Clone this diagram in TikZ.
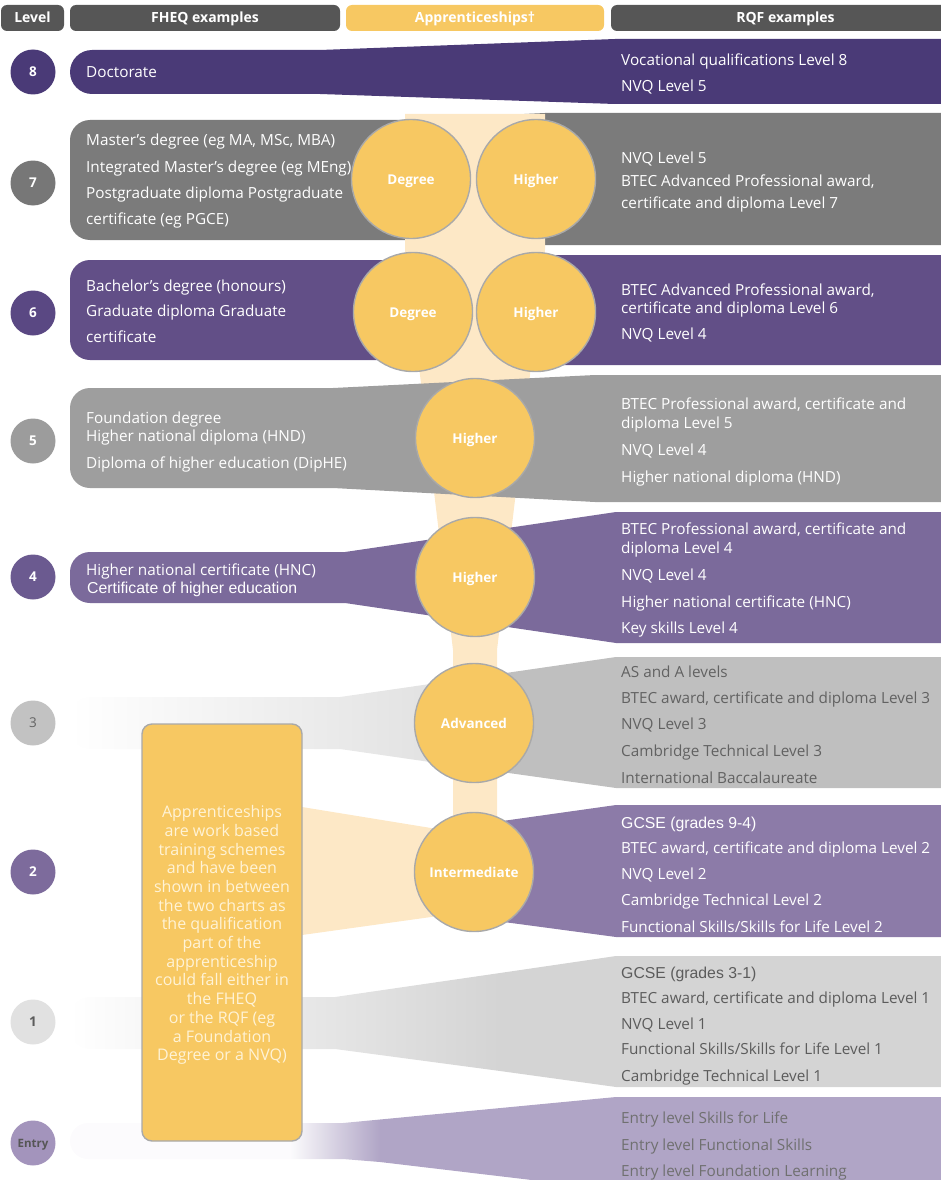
\documentclass[tikz,border=0pt]{standalone}
\usepackage{fontspec}
\setmainfont{Open Sans}
\newfontfamily\arialfont{Liberation Sans}
\definecolor{headgray}{HTML}{565656}
\definecolor{appyellow}{HTML}{F7C862}
\definecolor{ringgray}{HTML}{A9A9A9}
\definecolor{peach}{HTML}{FDE8C6}
\definecolor{notetext}{HTML}{FFF3D6}
\definecolor{lv8}{HTML}{4A3A77}
\definecolor{lv7}{HTML}{7B7B7B}
\definecolor{lv6}{HTML}{624F87}
\definecolor{lv5}{HTML}{9E9E9E}
\definecolor{lv4}{HTML}{7B6A9B}
\definecolor{lv3}{HTML}{BFBFBF}
\definecolor{lv2}{HTML}{8C7BA8}
\definecolor{lv1}{HTML}{D4D4D4}
\definecolor{lvE}{HTML}{B0A5C6}
\definecolor{c7}{HTML}{777777}
\definecolor{c6}{HTML}{5A4883}
\definecolor{c5}{HTML}{9C9C9C}
\definecolor{c4}{HTML}{6B5A90}
\definecolor{c3}{HTML}{C2C2C2}
\definecolor{c2}{HTML}{7D6B9C}
\definecolor{c1}{HTML}{E1E1E1}
\definecolor{cE}{HTML}{A394BC}
\definecolor{gray3}{HTML}{626262}
\definecolor{gray1}{HTML}{5C5C5C}
\definecolor{grayE}{HTML}{707070}

\begin{document}
\begin{tikzpicture}[x=1pt, y=-1pt,
        bandtext/.style={anchor=west, inner sep=0pt, text height=13pt, text depth=1pt,
            text=white, font=\fontsize{15.3}{18}\selectfont},
        arialtext/.style={bandtext, font=\arialfont\fontsize{15.8}{18}\selectfont},
        headbox/.style={rectangle, rounded corners=6pt, fill=headgray, minimum height=26pt,
            inner sep=0pt, text height=10pt, text depth=0pt, text=white, font=\fontsize{14}{16}\selectfont\bfseries},
        appcircle/.style={circle, fill=appyellow, draw=ringgray, line width=1.4pt,
            minimum size=119pt, inner sep=0pt, text height=10pt, text depth=0pt, text=white,
            font=\fontsize{13.5}{16}\selectfont\bfseries},
        lvlcircle/.style={circle, minimum size=45pt, inner sep=0pt, text height=9.5pt, text depth=0pt,
            text=white, font=\fontsize{13.5}{16}\selectfont\bfseries},
        notebox/.style={rounded corners=10pt, fill=appyellow, draw=ringgray, line width=1.4pt},
        notetxt/.style={inner sep=0pt, align=center, text=notetext, font=\fontsize{16}{18.7}\selectfont}]
\useasboundingbox (0,0) rectangle (941,1180);

\fill[lv7] (545,113) -- (960,113) -- (960,245) -- (545,245) -- (400,240) -- (90,240) arc (90:180:20) -- (70,140) arc (180:270:20) -- (400,120) -- cycle;
\fill[lv6] (546,255) -- (960,255) -- (960,365) -- (546,365) -- (390,360) -- (90,360) arc (90:180:20) -- (70,280) arc (180:270:20) -- (390,260) -- cycle;

\fill[peach] (405,114) -- (545,114) -- (545,250) -- (497,650) -- (497,840) -- (453,840) -- (453,650) -- (405,250) -- cycle;
\fill[peach] (302,807) -- (474,835) -- (474,911) -- (302,935) -- cycle;

\fill[lv8] (615,39) -- (960,39) -- (960,104) -- (615,104) -- (320,94) -- (92,94) arc (90:270:22) -- (320,50) -- cycle;
\fill[lv5] (595,375) -- (960,375) -- (960,502) -- (595,502) -- (333,488) -- (90,488) arc (90:180:20) -- (70,408) arc (180:270:20) -- (333,388) -- cycle;
\fill[lv4] (616,512) -- (960,512) -- (960,643) -- (616,643) -- (345,603) -- (90,603) arc (90:180:20) -- (70,572) arc (180:270:20) -- (345,552) -- cycle;

\shade[left color=white, middle color=white!88!lv3, right color=white!55!lv3] (340,697) -- (430,684) -- (430,762) -- (340,749) -- (90,749) arc (90:180:20) -- (70,717) arc (180:270:20) -- cycle;
\fill[lv3] (430,684) -- (616,657) -- (960,657) -- (960,788) -- (616,788) -- (430,762) -- cycle;

\fill[lv2] (474,825) -- (616,805) -- (960,805) -- (960,937) -- (616,937) -- (474,918) -- cycle;

\shade[left color=white, middle color=white!35!lv1, right color=lv1] (335,997) -- (500,973) -- (500,1071) -- (335,1049) -- (90,1049) arc (90:180:20) -- (70,1017) arc (180:270:20) -- cycle;
\fill[lv1] (500,973) -- (616,956) -- (960,956) -- (960,1087) -- (616,1087) -- (500,1071) -- cycle;

\fill[lvE!4] (290,1123) -- (290,1159) -- (88,1159) arc (90:270:18) -- cycle;
\shade[left color=lvE!4, right color=lvE] (290,1123) -- (343,1123) -- (380,1119.5) -- (380,1162) -- (343,1159) -- (290,1159) -- cycle;
\fill[lvE] (380,1119.5) -- (616,1097) -- (960,1097) -- (960,1190) -- (616,1190) -- (380,1162) -- cycle;

\draw[notebox] (142,724) rectangle (302,1141);
\node[notetxt] (note) at (222,935) {Apprenticeships\\are work based\\training schemes\\and have been\\shown in between\\the two charts as\\the qualification\\part of the\\apprenticeship\\could fall either in\\the FHEQ\\or the RQF (eg\\a Foundation\\Degree or a NVQ)};

\node[appcircle] (deg7) at (411,179) {Degree};
\node[appcircle] (hig7) at (536,179) {Higher};
\node[appcircle] (deg6) at (413,312) {Degree};
\node[appcircle] (hig6) at (536,312) {Higher};
\node[appcircle] (hig5) at (475,438) {Higher};
\node[appcircle] (hig4) at (475,577) {Higher};
\node[appcircle] (adv3) at (474,723) {Advanced};
\node[appcircle] (int2) at (474,872) {Intermediate};

\node[lvlcircle, fill=lv8] (n8) at (33,72) {8};
\node[lvlcircle, fill=c7] (n7) at (33,183) {7};
\node[lvlcircle, fill=c6] (n6) at (33,313) {6};
\node[lvlcircle, fill=c5] (n5) at (33,441) {5};
\node[lvlcircle, fill=c4] (n4) at (33,577) {4};
\node[lvlcircle, fill=c3, text=gray3, font=\fontsize{13.5}{16}\selectfont] (n3) at (33,723) {3};
\node[lvlcircle, fill=c2] (n2) at (33,872) {2};
\node[lvlcircle, fill=c1, text=gray1] (n1) at (33,1022) {1};
\node[lvlcircle, fill=cE, text=headgray, text height=8.5pt, font=\fontsize{11.5}{14}\selectfont\bfseries] (nE) at (33,1143) {Entry};

\node[headbox, minimum width=63pt] (hlevel) at (32.5,18) {Level};
\node[headbox, minimum width=270pt] (hfheq) at (205,18) {FHEQ examples};
\node[headbox, minimum width=258pt, fill=appyellow] (happ) at (475,18) {Apprenticeships†};
\node[headbox, minimum width=349pt] (hrqf) at (785.5,18) {RQF examples};

\node[bandtext] (l8) at (86,72) {Doctorate};
\foreach \y/\t [count=\i] in {60/Vocational qualifications Level 8, 86/NVQ Level 5}
    \node[bandtext] (r8-\i) at (621,\y) {\t};

\foreach \y/\t [count=\i] in {140/{Master’s degree (eg MA, MSc, MBA)}, 166/Integrated Master’s degree (eg MEng),
        192/Postgraduate diploma Postgraduate, 218/certificate (eg PGCE)}
    \node[bandtext] (l7-\i) at (86,\y) {\t};
\foreach \y/\t [count=\i] in {158/NVQ Level 5, 180/{BTEC Advanced Professional award,}, 202/certificate and diploma Level 7}
    \node[bandtext] (r7-\i) at (621,\y) {\t};

\foreach \y/\t [count=\i] in {285/Bachelor’s degree (honours), 310/Graduate diploma Graduate, 336/certificate}
    \node[bandtext] (l6-\i) at (86,\y) {\t};
\foreach \y/\t [count=\i] in {289/{BTEC Advanced Professional award,}, 307/certificate and diploma Level 6, 333/NVQ Level 4}
    \node[bandtext] (r6-\i) at (621,\y) {\t};

\foreach \y/\t [count=\i] in {417/Foundation degree, 435/Higher national diploma (HND), 462/Diploma of higher education (DipHE)}
    \node[bandtext] (l5-\i) at (86,\y) {\t};
\foreach \y/\t [count=\i] in {403/{BTEC Professional award, certificate and}, 422/diploma Level 5, 449/NVQ Level 4,
        476/Higher national diploma (HND)}
    \node[bandtext] (r5-\i) at (621,\y) {\t};

\node[bandtext] (l4-1) at (86,569) {Higher national certificate (HNC)};
\node[arialtext] (l4-2) at (87,587) {Certificate of higher education};
\foreach \y/\t [count=\i] in {528/{BTEC Professional award, certificate and}, 547/diploma Level 4, 574/NVQ Level 4,
        601/Higher national certificate (HNC), 627/Key skills Level 4}
    \node[bandtext] (r4-\i) at (621,\y) {\t};

\foreach \y/\t [count=\i] in {671/AS and A levels, 697/{BTEC award, certificate and diploma Level 3}, 723/NVQ Level 3,
        750/Cambridge Technical Level 3, 777/International Baccalaureate}
    \node[bandtext, text=gray3] (r3-\i) at (621,\y) {\t};

\node[arialtext] (r2-1) at (621,822) {GCSE (grades 9-4)};
\foreach \y/\t [count=\i from 2] in {847/{BTEC award, certificate and diploma Level 2}, 873/NVQ Level 2,
        899/Cambridge Technical Level 2, 926/{Functional Skills/Skills for Life Level 2}}
    \node[bandtext] (r2-\i) at (621,\y) {\t};

\node[arialtext, text=gray1] (r1-1) at (621,972) {GCSE (grades 3-1)};
\foreach \y/\t [count=\i from 2] in {997/{BTEC award, certificate and diploma Level 1}, 1023/NVQ Level 1,
        1048/{Functional Skills/Skills for Life Level 1}, 1075/Cambridge Technical Level 1}
    \node[bandtext, text=gray1] (r1-\i) at (621,\y) {\t};

\foreach \y/\t [count=\i] in {1117/Entry level Skills for Life, 1144/Entry level Functional Skills,
        1170/Entry level Foundation Learning}
    \node[bandtext, text=grayE] (rE-\i) at (621,\y) {\t};
\end{tikzpicture}
\end{document}
